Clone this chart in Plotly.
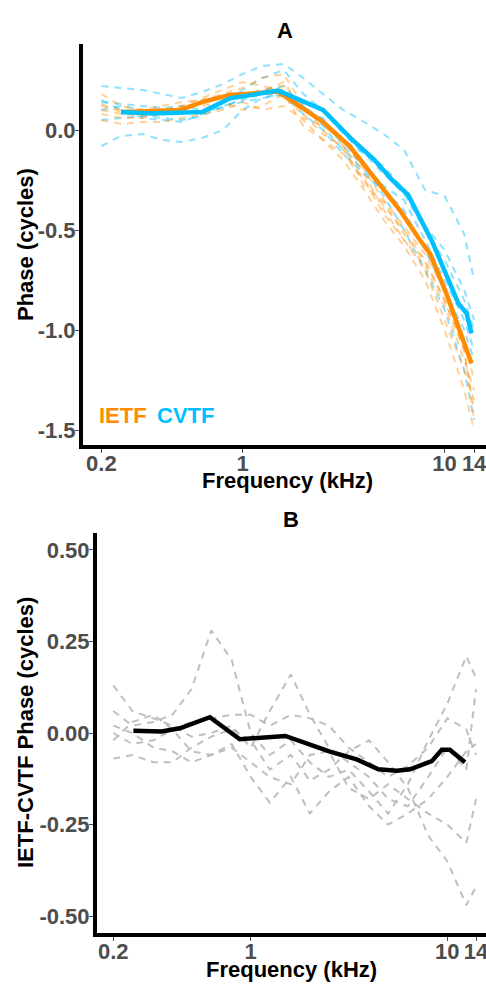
import plotly.graph_objects as go

# ---------------- data ----------------
freq_ind = [0.2, 0.25, 0.32, 0.4, 0.5, 0.63, 0.8, 1.0, 1.25, 1.6, 2.0, 2.5, 3.15, 4.0, 5.0, 6.3, 8.0, 10.0, 12.5, 14.0]

cvtf_b1 = [0.22, 0.21, 0.20, 0.18, 0.16, 0.19, 0.23, 0.28, 0.32, 0.33, 0.26, 0.18, 0.10, 0.04, -0.02, -0.10, -0.30, -0.33, -0.52, -0.75]
cvtf_b2 = [-0.08, -0.03, -0.02, -0.05, -0.06, -0.04, 0.00, 0.10, 0.16, 0.18, 0.12, 0.02, -0.10, -0.20, -0.33, -0.50, -0.70, -0.90, -1.20, -1.45]
cvtf_b3 = [0.10, 0.12, 0.10, 0.09, 0.10, 0.09, 0.11, 0.16, 0.20, 0.22, 0.12, 0.05, -0.05, -0.12, -0.22, -0.32, -0.50, -0.65, -0.85, -1.00]
cvtf_b4 = [0.05, 0.06, 0.07, 0.06, 0.05, 0.07, 0.12, 0.15, 0.18, 0.17, 0.08, 0.00, -0.12, -0.22, -0.30, -0.40, -0.60, -0.80, -1.00, -1.15]
cvtf_b5 = [0.14, 0.13, 0.12, 0.11, 0.12, 0.10, 0.14, 0.20, 0.26, 0.30, 0.18, 0.10, -0.02, -0.12, -0.18, -0.30, -0.48, -0.60, -0.80, -0.95]
cvtf_b6 = [0.15, 0.10, 0.06, 0.05, 0.04, 0.08, 0.12, 0.14, 0.16, 0.18, 0.10, 0.06, -0.08, -0.18, -0.28, -0.35, -0.55, -0.75, -0.95, -1.10]

ietf_o1 = [0.18, 0.12, 0.10, 0.12, 0.14, 0.15, 0.18, 0.21, 0.26, 0.28, 0.12, 0.00, -0.10, -0.25, -0.38, -0.50, -0.65, -0.85, -1.10, -1.40]
ietf_o2 = [0.05, 0.03, 0.04, 0.04, 0.06, 0.08, 0.10, 0.14, 0.10, 0.12, 0.05, -0.05, -0.15, -0.30, -0.45, -0.58, -0.75, -1.00, -1.30, -1.50]
ietf_o3 = [0.12, 0.10, 0.09, 0.10, 0.12, 0.16, 0.20, 0.24, 0.22, 0.20, 0.06, 0.02, -0.05, -0.20, -0.35, -0.48, -0.62, -0.80, -1.05, -1.25]
ietf_o4 = [0.10, 0.08, 0.07, 0.08, 0.10, 0.14, 0.17, 0.16, 0.19, 0.24, 0.10, 0.05, -0.08, -0.22, -0.40, -0.55, -0.70, -0.95, -1.20, -1.35]
ietf_o5 = [0.08, 0.06, 0.06, 0.08, 0.12, 0.12, 0.14, 0.10, 0.12, 0.18, 0.02, -0.05, -0.12, -0.25, -0.42, -0.55, -0.68, -0.88, -1.15, -1.30]
ietf_o6 = [0.13, 0.09, 0.08, 0.09, 0.10, 0.13, 0.16, 0.18, 0.20, 0.22, 0.08, -0.02, -0.08, -0.28, -0.36, -0.52, -0.66, -0.85, -1.10, -1.45]

freq_ietf_mean = [0.25, 0.49, 0.64, 0.865, 1.5, 2.5, 3.4, 4.43, 6.0, 7.55, 8.46, 10.2, 11.9, 13.6]
ietf_mean = [0.09, 0.10, 0.142, 0.175, 0.192, 0.04, -0.083, -0.233, -0.40, -0.55, -0.617, -0.817, -1.0, -1.167]
freq_cvtf_mean = [0.25, 0.35, 0.63, 0.865, 1.5, 2.5, 3.5, 4.5, 5.5, 6.6, 8.7, 11.7, 12.85, 13.6]
cvtf_mean = [0.09, 0.083, 0.09, 0.158, 0.197, 0.10, -0.05, -0.15, -0.25, -0.325, -0.56, -0.867, -0.917, -1.017]

diff_g1 = [0.06, 0.02, 0.03, 0.05, 0.12, 0.28, 0.20, 0.00, -0.06, -0.02, -0.08, -0.12, -0.10, -0.16, -0.22, -0.14, -0.02, 0.08, 0.21, 0.15]
diff_g2 = [0.13, 0.06, 0.04, 0.02, -0.01, 0.00, 0.02, -0.04, 0.06, 0.16, 0.05, -0.04, -0.08, -0.12, -0.18, -0.20, -0.12, -0.04, -0.10, 0.12]
diff_g3 = [-0.07, -0.06, -0.08, -0.08, -0.04, -0.01, 0.01, -0.02, -0.10, -0.06, -0.13, -0.10, -0.05, -0.02, -0.08, -0.15, -0.28, -0.35, -0.47, -0.42]
diff_g4 = [0.02, 0.00, -0.04, -0.05, -0.08, -0.06, -0.03, -0.12, -0.19, -0.12, -0.22, -0.16, -0.12, -0.20, -0.25, -0.22, -0.18, -0.12, -0.05, -0.03]
diff_g5 = [0.00, -0.03, -0.02, 0.01, 0.03, 0.04, 0.05, 0.05, 0.02, 0.05, 0.04, 0.02, -0.04, -0.08, -0.12, -0.09, -0.04, 0.04, 0.01, -0.06]
diff_g6 = [-0.02, 0.03, 0.05, 0.01, -0.05, -0.06, -0.04, -0.08, -0.12, -0.14, -0.06, -0.05, -0.15, -0.18, -0.14, -0.18, -0.22, -0.25, -0.30, -0.18]

freq_diff_mean = [0.253, 0.352, 0.436, 0.62, 0.88, 1.5, 2.53, 3.46, 4.46, 5.54, 6.47, 8.34, 9.38, 10.3, 12.3]
diff_mean = [0.006, 0.004, 0.013, 0.043, -0.017, -0.008, -0.051, -0.072, -0.099, -0.103, -0.099, -0.077, -0.046, -0.046, -0.08]

x_tickvals = [0.2, 1, 10, 14]
x_ticktext = ["0.2", "1", "10", "14"]
yA_tickvals = [-1.5, -1.0, -0.5, 0.0]
yA_ticktext = ["-1.5", "-1.0", "-0.5", "0.0"]
yB_tickvals = [-0.5, -0.25, 0.0, 0.25, 0.5]
yB_ticktext = ["-0.50", "-0.25", "0.00", "0.25", "0.50"]

# ---------------- styles ----------------
ORANGE = "#FF8C00"
BLUE = "#00BFFF"
ORANGE_T = "rgba(255,140,0,0.40)"
BLUE_T = "rgba(0,191,255,0.45)"
GREY_T = "rgba(180,180,180,0.85)"
FONT = "Liberation Sans"
DASH = "7px,6px"

W, H = 486, 984
fig = go.Figure()

for s in [cvtf_b1, cvtf_b2, cvtf_b3, cvtf_b4, cvtf_b5, cvtf_b6]:
    fig.add_trace(go.Scatter(x=freq_ind, y=s, mode="lines", xaxis="x", yaxis="y",
                             line=dict(color=BLUE_T, width=2, dash=DASH), showlegend=False, hoverinfo="skip"))
for s in [ietf_o1, ietf_o2, ietf_o3, ietf_o4, ietf_o5, ietf_o6]:
    fig.add_trace(go.Scatter(x=freq_ind, y=s, mode="lines", xaxis="x", yaxis="y",
                             line=dict(color=ORANGE_T, width=2, dash=DASH), showlegend=False, hoverinfo="skip"))
fig.add_trace(go.Scatter(x=freq_ietf_mean, y=ietf_mean, mode="lines", xaxis="x", yaxis="y",
                         line=dict(color=ORANGE, width=4.5), showlegend=False))
fig.add_trace(go.Scatter(x=freq_cvtf_mean, y=cvtf_mean, mode="lines", xaxis="x", yaxis="y",
                         line=dict(color=BLUE, width=4.5), showlegend=False))

for s in [diff_g1, diff_g2, diff_g3, diff_g4, diff_g5, diff_g6]:
    fig.add_trace(go.Scatter(x=freq_ind, y=s, mode="lines", xaxis="x2", yaxis="y2",
                             line=dict(color=GREY_T, width=2, dash=DASH), showlegend=False, hoverinfo="skip"))
fig.add_trace(go.Scatter(x=freq_diff_mean, y=diff_mean, mode="lines", xaxis="x2", yaxis="y2",
                         line=dict(color="black", width=4.5), showlegend=False))

tickfont = dict(family=FONT, size=22, color="#4D4D4D", weight="bold")
axis_common = dict(showgrid=False, zeroline=False, showline=True, linecolor="black", linewidth=4,
                   ticks="outside", ticklen=4, tickwidth=1, tickcolor="#4D4D4D", tickfont=tickfont,
                   automargin=False, ticklabeloverflow="allow")
x_common = dict(ticklabelstandoff=-8, **axis_common)
y_common = dict(ticklabelstandoff=-5, **axis_common)

fig.update_layout(
    template="none",
    width=W, height=H,
    margin=dict(l=0, r=0, t=0, b=0, pad=0),
    paper_bgcolor="white", plot_bgcolor="white",
    showlegend=False,
    xaxis=dict(type="log", range=[-0.79, 1.205], domain=[83 / W, 1.0], anchor="y",
               tickvals=x_tickvals, ticktext=x_ticktext, **x_common),
    yaxis=dict(range=[-1.575, 0.43], domain=[1 - 445 / H, 1 - 44 / H], anchor="x",
               tickvals=yA_tickvals, ticktext=yA_ticktext, **y_common),
    xaxis2=dict(type="log", range=[-0.782, 1.197], domain=[97 / W, 1.0], anchor="y2",
                tickvals=x_tickvals, ticktext=x_ticktext, **x_common),
    yaxis2=dict(range=[-0.546, 0.546], domain=[1 - 933 / H, 1 - 533 / H], anchor="x2",
                tickvals=yB_tickvals, ticktext=yB_ticktext, **y_common),
)

title_font = dict(family=FONT, size=22, color="black", weight="bold")
ann = [
    dict(text="A", x=285 / W, y=1 - 30 / H),
    dict(text="B", x=291 / W, y=1 - 519 / H),
    dict(text="Frequency (kHz)", x=287 / W, y=1 - 481 / H),
    dict(text="Frequency (kHz)", x=291 / W, y=1 - 969 / H),
    dict(text="Phase (cycles)", x=25 / W, y=1 - 245 / H, textangle=-90),
    dict(text="IETF-CVTF Phase (cycles)", x=25 / W, y=1 - 733 / H, textangle=-90),
]
for a in ann:
    fig.add_annotation(xref="paper", yref="paper", showarrow=False, xanchor="center", yanchor="middle",
                       font=title_font, **a)

fig.add_annotation(xref="paper", yref="paper", showarrow=False, xanchor="left", yanchor="middle",
                   x=97 / W, y=1 - 415 / H, text="IETF",
                   font=dict(family=FONT, size=22, color=ORANGE, weight="bold"))
fig.add_annotation(xref="paper", yref="paper", showarrow=False, xanchor="left", yanchor="middle",
                   x=155 / W, y=1 - 415 / H, text="CVTF",
                   font=dict(family=FONT, size=22, color=BLUE, weight="bold"))

fig.write_html(
    "out.html",
    config={"displayModeBar": False},
    post_script="document.body.style.margin='0';document.body.style.overflow='hidden';",
)
